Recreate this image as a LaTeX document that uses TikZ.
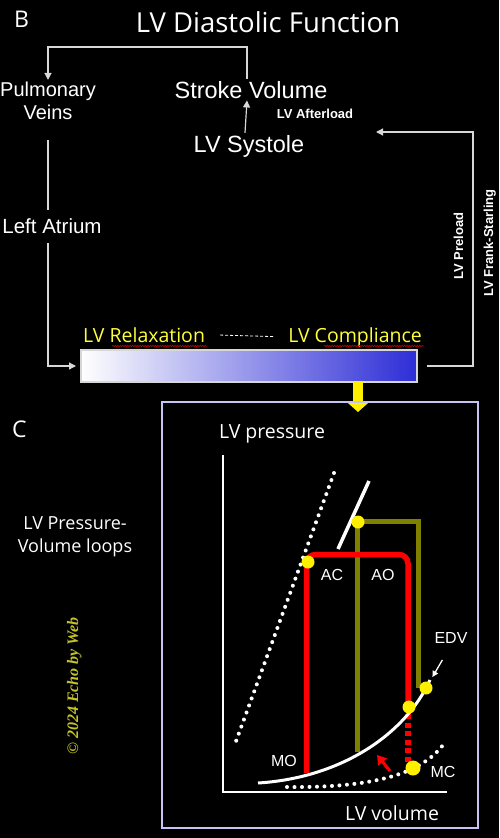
\documentclass[tikz,border=0pt]{standalone}
\usepackage{fontspec}
\setmainfont{Liberation Sans}
\newfontfamily\segoe{Open Sans}
\newfontfamily\wmfont{Liberation Serif}
\usetikzlibrary{arrows.meta,positioning,decorations.pathmorphing}
\definecolor{lngray}{RGB}{215,215,215}
\definecolor{txtyel}{RGB}{255,255,60}
\definecolor{barblue}{RGB}{45,45,215}
\definecolor{barmid}{RGB}{190,190,238}
\definecolor{loopolive}{RGB}{128,128,0}
\definecolor{dotyel}{RGB}{255,240,0}
\definecolor{wmcol}{RGB}{195,195,40}
\definecolor{panelc}{RGB}{200,195,240}

\begin{document}
\begin{tikzpicture}[x=1pt,y=-1pt,
  txt/.style={text=white,inner sep=2pt},
  big/.style={txt,font=\fontsize{23.5}{27}\selectfont},
  seg/.style={txt,font=\segoe\fontsize{19.5}{24}\selectfont},
  sml/.style={txt,font=\bfseries\fontsize{13}{15}\selectfont},
  lab/.style={txt,anchor=base,font=\fontsize{16}{18}\selectfont},
  lnk/.style={draw=lngray,line width=1.2pt,-{Triangle[length=7pt,width=7pt]}},
  pln/.style={draw=lngray,line width=1.2pt},
  squig/.style={draw=red!75!black,line width=0.6pt,decorate,decoration={snake,amplitude=0.8pt,segment length=2.5pt}},
  ydot/.style={circle,fill=dotyel,minimum size=13pt,inner sep=0pt},
  dots/.style={white,line width=4pt,line cap=round,dash pattern=on 0pt off 7.5pt}]
\useasboundingbox (0,0) rectangle (499,838);
\fill[black] (0,0) rectangle (499,838);

% panel B
\node[seg,anchor=base west,font=\segoe\fontsize{23}{26}\selectfont] (lblB) at (12,27) {B};
\node[seg,anchor=base,font=\segoe\fontsize{27.5}{30}\selectfont] (title) at (268,32) {LV Diastolic Function};
\node[txt,align=center,font=\fontsize{20}{23}\selectfont] (pv) at (48,101) {Pulmonary\\Veins};
\node[big,anchor=base] (sv) at (251,98) {Stroke Volume};
\node[big,anchor=base] (sys) at (249,152) {LV Systole};
\node[sml,anchor=base] (aft) at (315,118) {LV Afterload};
\node[txt,anchor=base,font=\fontsize{20.5}{24}\selectfont] (la) at (52,233) {Left Atrium};
\node[seg,anchor=base west,text=txtyel] (rel) at (81,342) {LV Relaxation};
\node[seg,anchor=base east,text=txtyel] (comp) at (424,342) {LV Compliance};
\node[draw=lngray,line width=1.5pt,left color=white,middle color=barmid,right color=barblue,
  minimum width=336pt,minimum height=32pt,inner sep=0pt,outer sep=0pt] (bar) at (249,366) {};
\node[sml,rotate=90,anchor=base] (pre) at (463,246) {LV Preload};
\node[sml,rotate=90,anchor=base] (fs) at (493,243) {LV Frank-Starling};
\coordinate (tl) at (48,47);
\coordinate (rt) at (473,132);
\coordinate (pl) at (376,132);

\draw[lnk] ([xshift=-4pt]sv.north) |- (tl) -- (pv.north);
\draw[lnk] ([xshift=-4pt]sys.north) -- ([xshift=-4pt]sv.south);
\draw[pln,shorten <=18pt,shorten >=6pt] (pv.south) -- (la.north -| pv.south);
\draw[lnk,shorten <=8pt,shorten >=5pt] (la.south -| pv.south) |- (bar.west);
\draw[lnk,shorten <=10pt] (bar.east) -| (rt) -- (pl);
\draw[draw=white,line width=0.8pt,dash pattern=on 3pt off 2pt,shorten <=13pt,shorten >=13pt] (rel.east) -- (comp.west);
\draw[squig] ([xshift=31pt,yshift=-4pt]rel.base west) -- ([yshift=-4pt]rel.base east);
\draw[squig] ([xshift=-100pt,yshift=-4pt]comp.base east) -- ([yshift=-4pt]comp.base east);
\draw[draw=dotyel,line width=10pt,-{Triangle[length=11pt,width=24pt]}] ([xshift=109pt]bar.south) -- ++(0,30);

% panel C
\node[seg,anchor=base west,font=\segoe\fontsize{23}{26}\selectfont] (lblC) at (10,437) {C};
\node[seg,align=center,font=\segoe\fontsize{18}{23}\selectfont] (pvl) at (75,537) {LV Pressure-\\Volume loops};
\node[rotate=90,anchor=base,text=wmcol,font=\wmfont\bfseries\itshape\fontsize{16}{19}\selectfont] (wm) at (78,686) {\textcopyright{} 2024 Echo by Web};
\node[draw=panelc,line width=1.5pt,minimum width=316pt,minimum height=426pt,inner sep=0pt] (panel) at (320,615) {};
\node[seg,anchor=base] (py) at (272,438) {LV pressure};
\node[seg,anchor=base] (vx) at (392,820) {LV volume};
\draw[white,line width=2pt] (223,455) -- (223,792) -- (447,792);

\draw[dots] (334,473) -- (235,744);
\draw[loopolive,line width=5pt] (357,752) -- (357,521.5) -- (418.5,521.5) -- (418.5,688);
\draw[red,line width=5.5pt,rounded corners=9pt] (306.5,773) -- (306.5,554.5) -- (408,554.5) -- (408,707);
\draw[red,line width=5.5pt,dash pattern=on 5pt off 3.5pt] (408,714) -- (408,764);
\draw[white,line width=3.5pt] (369,481) -- (338,549);
\draw[white,line width=3pt] (258,783) .. controls (340,778) and (405,735) .. (430,680);
\draw[dots] (287,787) .. controls (370,788) and (420,775) .. (443,745);
\draw[red,line width=3pt,-{Triangle[length=9pt,width=11pt]}] (390,771) -- (377,755);

\node[ydot] (dac) at (308,562) {};
\node[ydot] (dao) at (358,522) {};
\node[ydot] (dedv) at (426,688) {};
\node[ydot] (dmv) at (409,707) {};
\node[ydot,minimum width=15pt] (dmc) at (413,768) {};

\node[lab] (ac) at (332,580) {AC};
\node[lab] (ao) at (383,580) {AO};
\node[lab] (mo) at (284,766) {MO};
\node[lab] (mc) at (443,777) {MC};
\node[lab] (edv) at (451,643) {EDV};
\draw[white,line width=1.3pt,-{Triangle[length=6pt,width=6pt]},shorten <=17pt,shorten >=6pt] (edv.south) -- (dedv);
\end{tikzpicture}
\end{document}
